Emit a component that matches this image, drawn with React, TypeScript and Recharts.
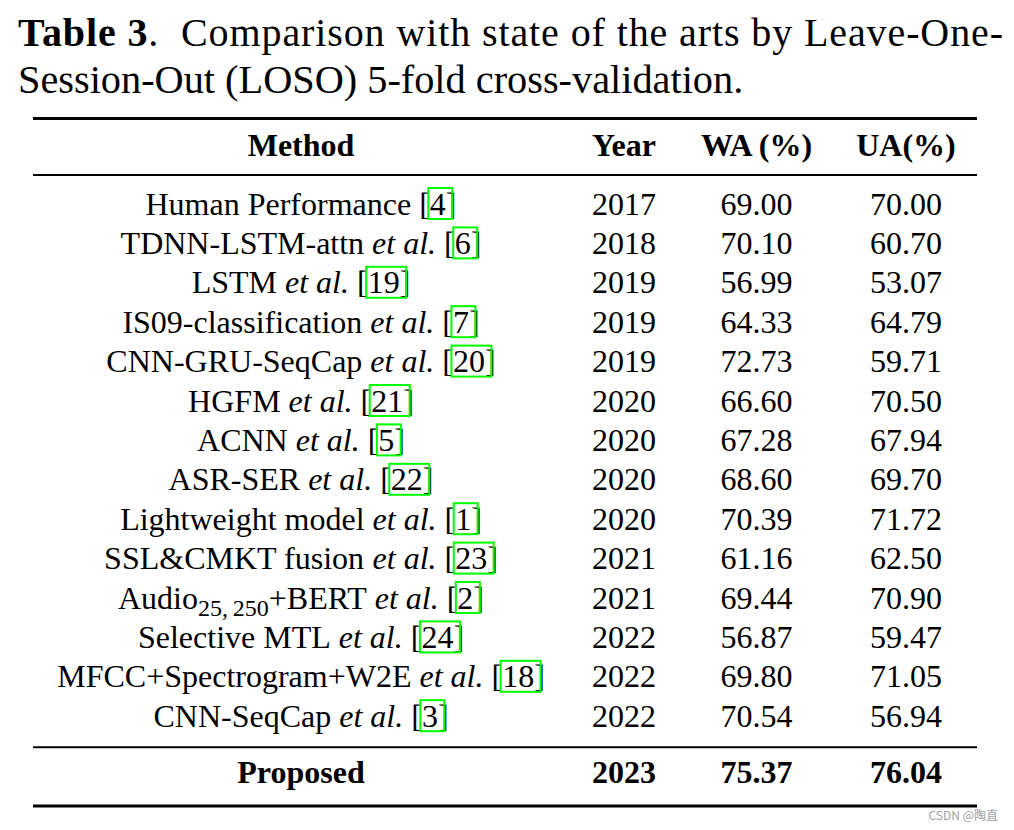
import { ScatterChart, Scatter, XAxis, YAxis, ReferenceLine } from "recharts";

// table content
const methodNames = [
  "Human Performance",
  "TDNN-LSTM-attn",
  "LSTM",
  "IS09-classification",
  "CNN-GRU-SeqCap",
  "HGFM",
  "ACNN",
  "ASR-SER",
  "Lightweight model",
  "SSL&CMKT fusion",
  "Audio{25,\u2009250}+BERT",
  "Selective MTL",
  "MFCC+Spectrogram+W2E",
  "CNN-SeqCap",
];
const hasEtAl = [false, true, true, true, true, true, true, true, true, true, true, true, true, true];
const citations = ["4", "6", "19", "7", "20", "21", "5", "22", "1", "23", "2", "24", "18", "3"];
const years = [2017, 2018, 2019, 2019, 2019, 2020, 2020, 2020, 2020, 2021, 2021, 2022, 2022, 2022];
const waValues = [69.0, 70.1, 56.99, 64.33, 72.73, 66.6, 67.28, 68.6, 70.39, 61.16, 69.44, 56.87, 69.8, 70.54];
const uaValues = [70.0, 60.7, 53.07, 64.79, 59.71, 70.5, 67.94, 69.7, 71.72, 62.5, 70.9, 59.47, 71.05, 56.94];
const headers = ["Method", "Year", "WA (%)", "UA(%)"];
const proposedRow = ["Proposed", "2023", "75.37", "76.04"];

// layout
const W = 1014;
const H = 830;
const SERIF = "'Liberation Serif', 'Times New Roman', serif";
const FS = 32;
const SUB_FS = 24;
const ROW0 = 214.5; // baseline of first body row, px
const ROWH = 39.4;
const colX = [301, 624, 756.5, 906];
const HEADER_ROW = -1.49;
const PROPOSED_ROW = 14.44;
const rules = [
  { row: -2.437, w: 3 },
  { row: -1.003, w: 2 },
  { row: 13.523, w: 2 },
  { row: 15.013, w: 3 },
];
const RULE_X0 = 33;
const RULE_X1 = 977;

const ctx = typeof document !== "undefined" ? document.createElement("canvas").getContext("2d") : null;
function textWidth(t: string, font: string) {
  if (!ctx) return t.length * FS * 0.5;
  ctx.font = font;
  return ctx.measureText(t).width;
}

const rows = methodNames.map((name, i) => ({
  y: i,
  name,
  etAl: hasEtAl[i],
  cite: citations[i],
  year: String(years[i]),
  wa: waValues[i].toFixed(2),
  ua: uaValues[i].toFixed(2),
}));

function MethodCell(props: any) {
  const { cx, cy, payload } = props;
  const parts: { t: string; size: number; italic?: boolean; dy?: number; cite?: boolean }[] = [];
  payload.name.split(/(\{[^}]*\})/).forEach((p: string) => {
    if (!p) return;
    if (p.startsWith("{")) parts.push({ t: p.slice(1, -1), size: SUB_FS, dy: 7 });
    else parts.push({ t: p, size: FS });
  });
  if (payload.etAl) {
    parts.push({ t: " ", size: FS });
    parts.push({ t: "et al.", size: FS, italic: true });
  }
  parts.push({ t: " [", size: FS });
  parts.push({ t: payload.cite, size: FS, cite: true });
  parts.push({ t: "]", size: FS });

  const widths = parts.map((p) => textWidth(p.t, `${p.italic ? "italic " : ""}${p.size}px ${SERIF}`));
  const total = widths.reduce((a, b) => a + b, 0);
  let x = cx - total / 2;
  const els: any[] = [];
  let boxL = 0;
  let boxR = 0;
  parts.forEach((p, k) => {
    if (p.cite) boxL = x - 1.5;
    if (k === parts.length - 1) boxR = x + 6.5;
    els.push(
      <text
        key={k}
        x={x}
        y={cy + (p.dy || 0)}
        fontFamily={SERIF}
        fontSize={p.size}
        fontStyle={p.italic ? "italic" : "normal"}
        fill="#000"
        style={{ whiteSpace: "pre" }}
      >
        {p.t}
      </text>
    );
    x += widths[k];
  });
  return (
    <g>
      {els}
      <rect x={boxL} y={cy - 26.5} width={boxR - boxL} height={31} fill="none" stroke="#00ff00" strokeWidth={2} />
    </g>
  );
}

function PlainCell(props: any) {
  const { cx, cy, payload } = props;
  return (
    <text x={cx} y={cy} textAnchor="middle" fontFamily={SERIF} fontSize={FS} fill="#000">
      {payload.label}
    </text>
  );
}

function BoldCell(props: any) {
  const { cx, cy, payload } = props;
  return (
    <text x={cx} y={cy} textAnchor="middle" fontFamily={SERIF} fontSize={FS} fontWeight="bold" fill="#000">
      {payload.label}
    </text>
  );
}

const yDomain: [number, number] = [-ROW0 / ROWH, (H - ROW0) / ROWH];

export default function App() {
  const methodData = rows.map((r) => ({ ...r, x: colX[0] }));
  const yearData = rows.map((r) => ({ x: colX[1], y: r.y, label: r.year }));
  const waData = rows.map((r) => ({ x: colX[2], y: r.y, label: r.wa }));
  const uaData = rows.map((r) => ({ x: colX[3], y: r.y, label: r.ua }));
  const headerData = headers.map((h, c) => ({ x: colX[c], y: HEADER_ROW, label: h }));
  const proposedData = proposedRow.map((v, c) => ({ x: colX[c], y: PROPOSED_ROW, label: v }));

  return (
    <div style={{ position: "absolute", left: 0, top: 0, width: W, height: H, background: "#fff" }}>
      <ScatterChart width={W} height={H} margin={{ top: 0, right: 0, bottom: 0, left: 0 }}>
        <XAxis type="number" dataKey="x" domain={[0, W]} allowDataOverflow hide />
        <YAxis type="number" dataKey="y" domain={yDomain} allowDataOverflow reversed hide />
        {rules.map((r, i) => (
          <ReferenceLine
            key={i}
            segment={[
              { x: RULE_X0, y: r.row },
              { x: RULE_X1, y: r.row },
            ]}
            stroke="#000"
            strokeWidth={r.w}
            ifOverflow="visible"
          />
        ))}
        <Scatter data={headerData} shape={BoldCell} isAnimationActive={false} />
        <Scatter data={methodData} shape={MethodCell} isAnimationActive={false} />
        <Scatter data={yearData} shape={PlainCell} isAnimationActive={false} />
        <Scatter data={waData} shape={PlainCell} isAnimationActive={false} />
        <Scatter data={uaData} shape={PlainCell} isAnimationActive={false} />
        <Scatter data={proposedData} shape={BoldCell} isAnimationActive={false} />
      </ScatterChart>
      <svg width={W} height={H} style={{ position: "absolute", left: 0, top: 0, pointerEvents: "none" }}>
        <text
          x={18}
          y={46}
          fontFamily={SERIF}
          fontSize={40}
          textLength={985}
          lengthAdjust="spacing"
          fill="#000"
          style={{ whiteSpace: "pre" }}
        >
          <tspan fontWeight="bold">Table 3</tspan>{".  Comparison with state of the arts by Leave-One-"}
        </text>
        <text x={18} y={93} fontFamily={SERIF} fontSize={40.3} fill="#000">
          Session-Out (LOSO) 5-fold cross-validation.
        </text>
        <text x={998} y={820} textAnchor="end" fontFamily="'Noto Sans CJK SC', 'Noto Sans', sans-serif" fontSize={12} fill="#a0a0a0">
          CSDN @陶直
        </text>
      </svg>
    </div>
  );
}
